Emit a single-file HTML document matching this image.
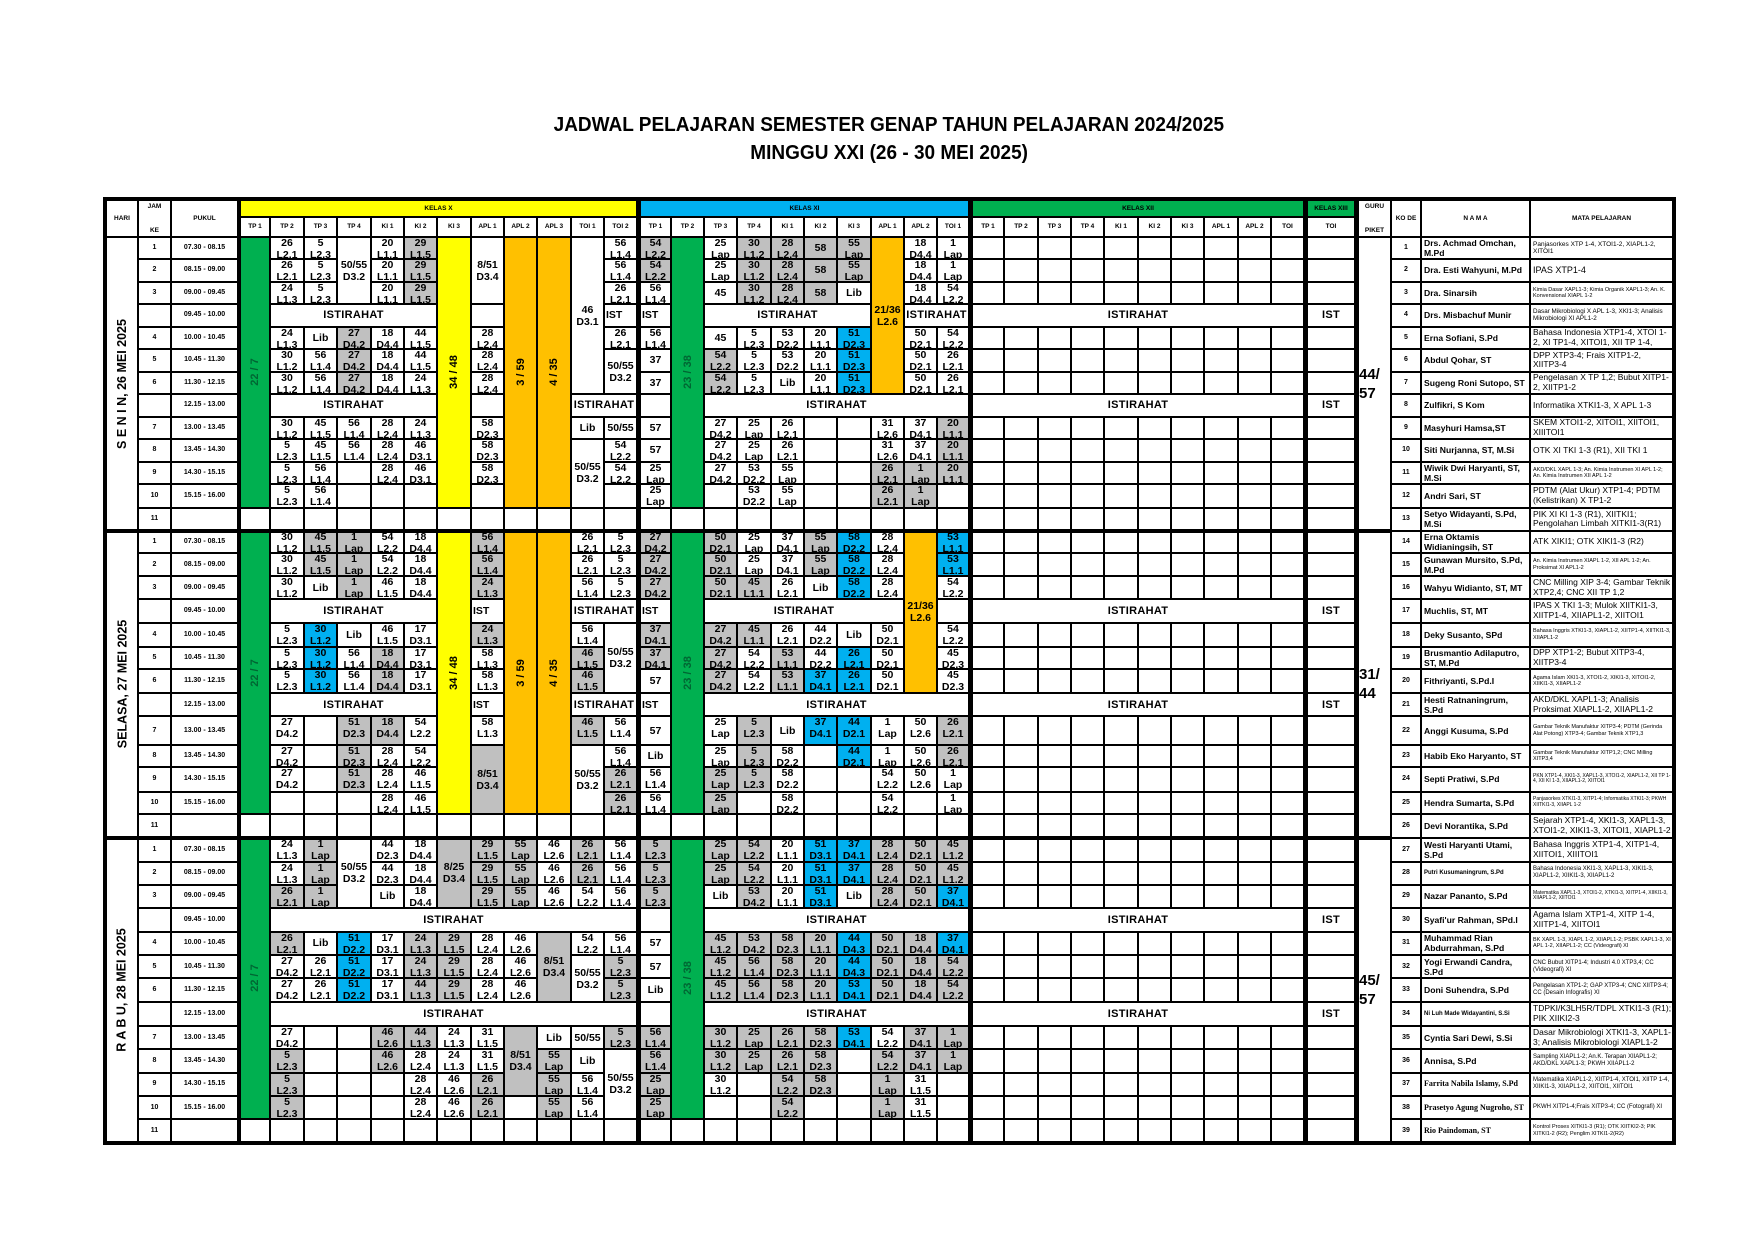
<!DOCTYPE html>
<html><head><meta charset="utf-8">
<style>
html,body{margin:0;padding:0;background:#fff;}
body{width:1754px;height:1240px;position:relative;overflow:hidden;font-family:"Liberation Sans",sans-serif;}
.b{position:absolute;box-sizing:border-box;display:flex;align-items:center;justify-content:center;text-align:center;overflow:hidden;color:#000;font-weight:bold;font-size:10.5px;line-height:12px;}
.t{align-items:flex-start;padding-top:0px;}
.i{font-size:11px;letter-spacing:0.3px;}
.l{justify-content:flex-start;padding-left:1px;font-size:10.5px;}
.h{font-size:6.5px;}
.s{font-size:7px;}
.n{justify-content:flex-start;padding-left:2px;font-size:8.6px;text-align:left;line-height:10px;}
.m{justify-content:flex-start;padding-left:2px;font-weight:normal;text-align:left;line-height:1.15;}
.rot span{display:inline-block;transform:rotate(-90deg);white-space:nowrap;}
.title{position:absolute;left:0;width:1778px;text-align:center;font-weight:bold;font-size:20px;line-height:23px;}
.title span{display:inline-block;transform:scaleX(0.95);white-space:nowrap;}
</style></head><body>
<div class="title" style="top:114px"><span>JADWAL PELAJARAN SEMESTER GENAP TAHUN PELAJARAN 2024/2025</span></div>
<div class="title" style="top:142px"><span>MINGGU XXI (26 - 30 MEI 2025)</span></div>
<div id="t"></div>
<script>
const X=[106,138,171,238,240,270,304,337,371,404,437,471,504,537,571,604,637,640,671,704,737,771,804,837,871,904,937,969,972,1004,1038,1071,1104,1138,1171,1204,1238,1271,1304,1307,1355,1358,1391,1421,1530,1673];
const Y=[237,259.3,281.7,304.3,326.7,349,371.7,394.3,416.7,439.3,461.7,484.3,507.7,531,
553,576,599.3,622.7,646.7,669.3,693.3,716,745,767.3,791.7,814,837.5,
861.7,885,907.7,931.7,955,978.3,1002.3,1026,1049.3,1072.7,1096,1119,1142];
const BG={'':'#fff',g:'#c0c0c0',c:'#00b0f0',y:'#ffff00',o:'#ffc000',G:'#00b050'};
let h='';
function box(x0,y0,x1,y1,bg,html,cls){h+='<div class="b '+(cls||'')+'" style="left:'+x0+'px;top:'+y0+'px;width:'+(x1-x0)+'px;height:'+(y1-y0)+'px;background:'+bg+'">'+(html||'')+'</div>';}
function cell(c0,c1,r0,r1,bg,html,cls){box(X[c0]+1,Y[r0]+1,X[c1+1]-1,Y[r1+1]-1,bg,html,cls);}
box(103,197,1676,1145,'#000');
const HT=200,HM=217,HB=237;
box(X[0]+1,HT+1,X[1]-1,HB-1,'#fff','HARI','h');
box(X[1]+1,HT+1,X[2]-1,HB-1,'#fff','<div>JAM<br><br>KE</div>','h');
box(X[2]+1,HT+1,X[3]-1,HB-1,'#fff','PUKUL','h');
box(X[4]+1,HT+1,X[16]-1,HM-1,'#ffff00','KELAS X','h');
box(X[17]+1,HT+1,X[27]-1,HM-1,'#00b0f0','KELAS XI','h');
box(X[28]+1,HT+1,X[38]-1,HM-1,'#00b050','KELAS XII','h');
box(X[39]+1,HT+1,X[40]-1,HM-1,'#00b050','KELAS XIII','h');
box(X[41]+1,HT+1,X[42]-1,HB-1,'#fff','<div>GURU<br><br>PIKET</div>','h');
box(X[42]+1,HT+1,X[43]-1,HB-1,'#fff','KO DE','h');
box(X[43]+1,HT+1,X[44]-1,HB-1,'#fff','N A M A','h');
box(X[44]+1,HT+1,X[45]-1,HB-1,'#fff','MATA PELAJARAN','h');
const subX=['TP 1','TP 2','TP 3','TP 4','KI 1','KI 2','KI 3','APL 1','APL 2','APL 3','TOI 1','TOI 2'];
subX.forEach((s,i)=>box(X[4+i]+1,HM+1,X[5+i]-1,HB-1,'#fff',s,'h'));
const subXI=['TP 1','TP 2','TP 3','TP 4','KI 1','KI 2','KI 3','APL 1','APL 2','TOI 1'];
subXI.forEach((s,i)=>box(X[17+i]+1,HM+1,X[18+i]-1,HB-1,'#fff',s,'h'));
const subXII=['TP 1','TP 2','TP 3','TP 4','KI 1','KI 2','KI 3','APL 1','APL 2','TOI'];
subXII.forEach((s,i)=>box(X[28+i]+1,HM+1,X[29+i]-1,HB-1,'#fff',s,'h'));
box(X[39]+1,HM+1,X[40]-1,HB-1,'#fff','TOI','h');

const JAM=['1','2','3','','4','5','6','','7','8','9','10','11'];
const PUK=['07.30 - 08.15','08.15 - 09.00','09.00 - 09.45','09.45 - 10.00','10.00 - 10.45','10.45 - 11.30','11.30 - 12.15','12.15 - 13.00','13.00 - 13.45','13.45 - 14.30','14.30 - 15.15','15.15 - 16.00',''];
const DAYS=['S E N I N, 26 MEI 2025','SELASA, 27 MEI 2025','R A B U, 28 MEI 2025'];
const PIKET=['44/<br>57','31/<br>44','45/<br>57'];
const dataCols=[4,5,6,7,8,9,10,11,12,13,14,15,17,18,19,20,21,22,23,24,25,26,28,29,30,31,32,33,34,35,36,37,39];
for(let d=0;d<3;d++){
  const o=13*d;
  cell(0,0,o,o+12,'#fff','<span style="font-size:12.5px">'+DAYS[d]+'</span>','rot');
  for(let r=0;r<13;r++){
    cell(1,1,o+r,o+r,'#fff',JAM[r],'s');
    cell(2,2,o+r,o+r,'#fff',PUK[r],'s');
    dataCols.forEach(c=>cell(c,c,o+r,o+r,'#fff',''));
  }
  cell(41,41,o,o+12,'#fff','<div style="font-size:15px;line-height:19px;text-align:left;width:100%">'+PIKET[d]+'</div>');
  cell(28,37,o+3,o+3,'#fff','ISTIRAHAT','i');
  cell(28,37,o+7,o+7,'#fff','ISTIRAHAT','i');
  cell(39,39,o+3,o+3,'#fff','IST','i');
  cell(39,39,o+7,o+7,'#fff','IST','i');
  cell(4,4,o,o+11,'#00b050','<span style="font-size:11px;color:#063">22 / 7</span>','rot');
  cell(18,18,o,o+11,'#00b050','<span style="font-size:11px;color:#063">23 / 38</span>','rot');
  if(d<2){
    cell(10,10,o,o+11,'#ffff00','<span style="font-size:11px">34 / 48</span>','rot');
    cell(12,12,o,o+11,'#ffc000','<span style="font-size:11px">3 / 59</span>','rot');
    cell(13,13,o,o+11,'#ffc000','<span style="font-size:11px">4 / 35</span>','rot');
  }
}
const SP=[
`5 0.1 26|L2.1;5 2.4 24|L1.3;5 5.6.8 30|L1.2;5 9.10.11 5|L2.3;
6 0.1.2 5|L2.3;6 4 Lib;6 5.6 56|L1.4;6 8.9 45|L1.5;6 10.11 56|L1.4;
7 0-2 50/55|D3.2;7 4.5.6 27|D4.2 g;7 8.9 56|L1.4;
8 0.1.2 20|L1.1;8 4.5.6 18|D4.4;8 8.9.10 28|L2.4;
9 0.1.2 29|L1.5 g;9 4.5 44|L1.5;9 6.8 24|L1.3;9 9.10 46|D3.1;
5-9 3 ISTIRAHAT i;5-9 7 ISTIRAHAT i;
11 0-2 8/51|D3.4;11 4.5.6 28|L2.4;11 8.9.10 58|D2.3;
14 0-6 46|D3.1;14-15 7 ISTIRAHAT i;14 8 Lib;14 9-11 50/55|D3.2;
15 0.1 56|L1.4;15 2.4 26|L2.1;15 3 IST l;15 5-6 50/55|D3.2;15 8 50/55;15 9.10 54|L2.2;
17 0.1 54|L2.2 g;17 2.4 56|L1.4;17 3 IST l;17 5.6 37;17 8.9 57;17 10.11 25|Lap;
19 0.1 25|Lap;19 2.4 45;19 5.6 54|L2.2 g;19 8.9.10 27|D4.2;
20 0.1.2 30|L1.2 g;20 4.5.6 5|L2.3;20 8.9 25|Lap;20 10.11 53|D2.2;
21 0.1.2 28|L2.4 g;21 4.5 53|D2.2;21 6 Lib;21 8.9 26|L2.1;21 10.11 55|Lap;
22 0.1.2 58 g;22 4.5.6 20|L1.1;
23 0.1 55|Lap g;23 2 Lib;23 4.5.6 51|D2.3 c;
19-23 3 ISTIRAHAT i;19-26 7 ISTIRAHAT i;
24 0-6 21/36|L2.6 o;24 8.9 31|L2.6;24 10.11 26|L2.1 g;
25 0.1.2 18|D4.4;25-26 3 ISTIRAHAT i;25 4.5.6 50|D2.1;25 8.9 37|D4.1;25 10.11 1|Lap g;
26 0.1 1|Lap;26 2.4 54|L2.2;26 5.6 26|L2.1;26 8.9.10 20|L1.1 g`,
`5 0.1.2 30|L1.2;5 4.5.6 5|L2.3;5 8.9.10 27|D4.2;
6 0.1 45|L1.5 g;6 2 Lib;6 4.5.6 30|L1.2 c;
7 0.1.2 1|Lap g;7 4 Lib;7 5.6 56|L1.4;7 8.9.10 51|D2.3 g;
8 0.1 54|L2.2;8 2.4 46|L1.5;8 5.6.8 18|D4.4 g;8 9.10.11 28|L2.4;
9 0.1.2 18|D4.4;9 4.5.6 17|D3.1;9 8.9 54|L2.2;9 10.11 46|L1.5;
5-9 3 ISTIRAHAT i;5-9 7 ISTIRAHAT i;
11 0.1 56|L1.4 g;11 2.4 24|L1.3 g;11 3 IST l;11 7 IST l;11 5.6.8 58|L1.3;11 9-11 8/51|D3.4 g;
14 0.1 26|L2.1;14 2.4 56|L1.4;14-15 3 ISTIRAHAT i;14-15 7 ISTIRAHAT i;14 5.6.8 46|L1.5 g;14 9-11 50/55|D3.2;
15 0.1.2 5|L2.3;15 4-6 50/55|D3.2;15 8.9 56|L1.4;15 10.11 26|L2.1 g;
17 0.1.2 27|D4.2 g;17 3 IST l;17 4.5 37|D4.1 g;17 6.8 57;17 7 IST l;17 9 Lib;17 10.11 56|L1.4;
19 0.1.2 50|D2.1 g;19 4.5.6 27|D4.2 g;19 8.9 25|Lap;19 10.11 25|Lap g;
20 0.1 25|Lap;20 2.4 45|L1.1 g;20 5.6 54|L2.2;20 8.9.10 5|L2.3 g;
21 0.1 37|D4.1;21 2.4 26|L2.1;21 5.6 53|L1.1 g;21 8 Lib;21 9.10.11 58|D2.2;
22 0.1 55|Lap g;22 2 Lib;22 4.5 44|D2.2;22 6.8 37|D4.1 c;
23 0.1.2 58|D2.2 c;23 4 Lib;23 5.6 26|L2.1 c;23 8.9 44|D2.1 c;
24 0.1.2 28|L2.4;24 4.5.6 50|D2.1;24 8.9 1|Lap;24 10.11 54|L2.2;
25 0-6 21/36|L2.6 o;25 8.9.10 50|L2.6;
26 0.1 53|L1.1 c;26 2.4 54|L2.2;26 5.6 45|D2.3;26 8.9 26|L2.1 g;26 10.11 1|Lap;
19-24 3 ISTIRAHAT i;19-26 7 ISTIRAHAT i`,
`5 0.1 24|L1.3;5 2.4 26|L2.1 g;5 5.6.8 27|D4.2;5 9.10.11 5|L2.3 g;
6 0.1.2 1|Lap g;6 4 Lib;6 5.6 26|L2.1;
7 0-2 50/55|D3.2;7 4.5.6 51|D2.2 c;
8 0.1 44|D2.3;8 2 Lib;8 4.5.6 17|D3.1;8 8.9 46|L2.6 g;
9 0.1.2 18|D4.4;9 4.5 24|L1.3 g;9 6.8 44|L1.3 g;9 9.10.11 28|L2.4;
10 0-2 8/25|D3.4 g;10 4.5.6 29|L1.5 g;10 8.9 24|L1.3;10 10.11 46|L2.6;
11 0.1.2 29|L1.5 g;11 4.5.6 28|L2.4;11 8.9 31|L1.5;11 10.11 26|L2.1 g;
12 0.1.2 55|Lap g;12 4.5.6 46|L2.6;12 8-10 8/51|D3.4 g;
13 0.1.2 46|L2.6;13 4-6 8/51|D3.4 g;13 8 Lib;13 9.10.11 55|Lap g;
14 0.1 26|L2.1 g;14 2.4 54|L2.2;14 5-6 50/55|D3.2;14 8 50/55;14 9 Lib;14 10.11 56|L1.4;
15 0.1.2.4 56|L1.4;15 5.6.8 5|L2.3 g;15 9-11 50/55|D3.2;
5-15 3 ISTIRAHAT i;5-15 7 ISTIRAHAT i;
17 0.1.2 5|L2.3 g;17 4.5 57;17 6 Lib;17 8.9 56|L1.4 g;17 10.11 25|Lap g;
19 0.1 25|Lap g;19 2 Lib;19 4.5.6 45|L1.2 g;19 8.9 30|L1.2 g;19 10 30|L1.2;
20 0.1 54|L2.2 g;20 2.4 53|D4.2 g;20 5.6 56|L1.4 g;20 8.9 25|Lap g;
21 0.1.2 20|L1.1;21 4.5.6 58|D2.3 g;21 8.9 26|L2.1 g;21 10.11 54|L2.2 g;
22 0.1.2 51|D3.1 c;22 4.5.6 20|L1.1 g;22 8.9.10 58|D2.3 g;
23 0.1 37|D4.1 c;23 2 Lib;23 4.5 44|D4.3 c;23 6.8 53|D4.1 c;
24 0.1.2 28|L2.4 g;24 4.5.6 50|D2.1 g;24 8 54|L2.2;24 9 54|L2.2 g;24 10.11 1|Lap g;
25 0.1.2 50|D2.1 g;25 4.5.6 18|D4.4 g;25 8.9 37|D4.1 g;25 10.11 31|L1.5;
26 0.1 45|L1.2 g;26 2.4 37|D4.1 c;26 5.6 54|L2.2 g;26 8.9 1|Lap g;
19-26 3 ISTIRAHAT i;19-26 7 ISTIRAHAT i`
];
SP.forEach((s,d)=>{
  const o=13*d;
  s.split(';').forEach(e=>{
    e=e.trim(); if(!e) return;
    const p=e.split(' ');
    const cs=p[0].split('-').map(Number); const c0=cs[0],c1=cs.length>1?cs[1]:cs[0];
    const txt=p[2]; let bg=p[3]||''; let cls='';
    if(bg==='i'||bg==='l'){cls=bg;bg='';}
    const multi=txt.indexOf('|')>=0;
    const html=txt.replace('|','<br>');
    if(p[1].indexOf('-')>=0){
      const rs=p[1].split('-').map(Number);
      cell(c0,c1,o+rs[0],o+rs[1],BG[bg],'<div>'+html+'</div>',cls);
    } else {
      p[1].split('.').map(Number).forEach(r=>{
        cell(c0,c1,o+r,o+r,BG[bg],multi?'<div style="margin-top:-1px">'+html+'</div>':html,(multi?'t ':'')+cls);
      });
    }
  });
});
box(103,Y[13]-2,X[42]+1,Y[13]+2,'#000');
box(103,Y[26]-2,X[42]+1,Y[26]+2,'#000');
const T=[
['Drs. Achmad Omchan, M.Pd','Panjasorkes XTP 1-4, XTOI1-2, XIAPL1-2, XITOI1',6.5],
['Dra. Esti Wahyuni, M.Pd','IPAS XTP1-4',9],
['Dra. Sinarsih','Kimia Dasar XAPL1-3; Kimia Organik XAPL1-3; An. K. Konvensional XIAPL 1-2',5.5],
['Drs. Misbachuf Munir','Dasar Mikrobiologi X APL 1-3, XKI1-3; Analisis Mikrobiologi XI APL1-2',6.3],
['Erna Sofiani, S.Pd','Bahasa Indonesia XTP1-4, XTOI 1-2, XI TP1-4, XITOI1, XII TP 1-4,',8.5],
['Abdul Qohar, ST','DPP XTP3-4; Frais XITP1-2, XIITP3-4',8.5],
['Sugeng Roni Sutopo, ST','Pengelasan X TP 1,2; Bubut XITP1-2, XIITP1-2',8.5],
['Zulfikri, S Kom','Informatika XTKI1-3, X APL 1-3',8.5],
['Masyhuri Hamsa,ST','SKEM XTOI1-2, XITOI1, XIITOI1, XIIITOI1',8.5],
['Siti Nurjanna, ST, M.Si','OTK XI TKI 1-3 (R1), XII TKI 1',8.5],
['Wiwik Dwi Haryanti, ST, M.Si','AKD/DKL XAPL 1-3; An. Kimia Instrumen XI APL 1-2; An. Kimia Instrumen XII APL 1-2',5.5],
['Andri Sari, ST','PDTM (Alat Ukur) XTP1-4; PDTM (Kelistrikan) X TP1-2',8.5],
['Setyo Widayanti, S.Pd, M.Si','PIK XI KI 1-3 (R1), XIITKI1; Pengolahan Limbah XITKI1-3(R1)',8.5],
['Erna Oktamis Widianingsih, ST','ATK XIKI1; OTK XIKI1-3 (R2)',8.5],
['Gunawan Mursito, S.Pd, M.Pd','An. Kimia Instrumen XIAPL 1-2, XII APL 1-2; An. Proksimat XI APL1-2',5.5],
['Wahyu Widianto, ST, MT','CNC Milling XIP 3-4; Gambar Teknik XTP2,4; CNC XII TP 1,2',8.5],
['Muchlis, ST, MT','IPAS X TKI 1-3; Mulok XIITKI1-3, XIITP1-4, XIIAPL1-2, XIITOI1',8.5],
['Deky Susanto, SPd','Bahasa Inggris XTKI1-3, XIAPL1-2, XIITP1-4, XIITKI1-3, XIIAPL1-2',5.5],
['Brusmantio Adilaputro, ST, M.Pd','DPP XTP1-2; Bubut XITP3-4, XIITP3-4',8.5],
['Fithriyanti, S.Pd.I','Agama Islam XKI1-3, XTOI1-2, XIKI1-3, XITOI1-2, XIIKI1-3, XIIAPL1-2',5.5],
['Hesti Ratnaningrum, S.Pd','AKD/DKL XAPL1-3; Analisis Proksimat XIAPL1-2, XIIAPL1-2',8.5],
['Anggi Kusuma, S.Pd','Gambar Teknik Manufaktur XITP3-4; PDTM (Gerinda Alat Potong) XTP3-4; Gambar Teknik XTP1,3',5.5],
['Habib Eko Haryanto, ST','Gambar Teknik Manufaktur XITP1,2; CNC Milling XITP3,4',5.5],
['Septi Pratiwi, S.Pd','PKN XTP1-4, XKI1-3, XAPL1-3, XTOI1-2, XIAPL1-2, XII TP 1-4, XII KI 1-3, XIIAPL1-2, XIITOI1',5],
['Hendra Sumarta, S.Pd','Panjasorkes XTKI1-3, XITP1-4; Informatika XTKI1-3; PKWH XIITKI1-3, XIIAPL 1-2',5],
['Devi Norantika, S.Pd','Sejarah XTP1-4, XKI1-3, XAPL1-3, XTOI1-2, XIKI1-3, XITOI1, XIAPL1-2',8.5],
['Westi Haryanti Utami, S.Pd','Bahasa Inggris XTP1-4, XITP1-4, XIITOI1, XIIITOI1',8.5],
['Putri Kusumaningrum, S.Pd','Bahasa Indonesia XKI1-3, XAPL1-3, XIKI1-3, XIAPL1-2, XIIKI1-3, XIIAPL1-2',6,6],
['Nazar Pananto, S.Pd','Matematika XAPL1-3, XTOI1-2, XTKI1-3, XIITP1-4, XIIKI1-3, XIIAPL1-2, XIITOI1',5],
["Syafi'ur Rahman, SPd.I",'Agama Islam XTP1-4, XITP 1-4, XIITP1-4, XIITOI1',8.5],
['Muhammad Rian Abdurrahman, S.Pd','BK XAPL 1-3, XIAPL 1-2, XIIAPL1-2; PSBK XAPL1-3, XI APL 1-2, XIIAPL1-2; CC (Videografi) XI',5.5],
['Yogi Erwandi Candra, S.Pd','CNC Bubut XITP1-4; Industri 4.0 XTP3,4; CC (Videografi) XI',6],
['Doni Suhendra, S.Pd','Pengelasan XTP1-2; GAP XTP3-4; CNC XIITP3-4; CC (Desain Infografis) XI',6],
['Ni Luh Made Widayantini, S.Si','TDPKI/K3LH5R/TDPL XTKI1-3 (R1); PIK XIIKI2-3',8.5,6],
['Cyntia Sari Dewi, S.Si','Dasar Mikrobiologi XTKI1-3, XAPL1-3; Analisis Mikrobiologi XIAPL1-2',8.5],
['Annisa, S.Pd','Sampling XIAPL1-2; An.K. Terapan XIIAPL1-2; AKD/DKL XAPL1-3; PKWH XIIAPL1-2',6],
['Farrita Nabila Islamy, S.Pd','Matematika XIAPL1-2, XIITP1-4, XTOI1, XIITP 1-4, XIIKI1-3, XIIAPL1-2, XIITOI1, XIITOI1',6,8,1],
['Prasetyo Agung Nugroho, ST','PKWH XITP1-4;Frais XITP3-4; CC (Fotografi) XI',6,8,1],
['Rio Paindoman, ST','Kontrol Proses XITKI1-3 (R1); OTK XIITKI2-3; PIK XITKI1-2 (R2); Penglim XITKI1-2(R2)',5.5,8,1]
];
T.forEach((t,i)=>{
  cell(42,42,i,i,'#fff',String(i+1),'s');
  const nf=t[3]||8.6; const ser=t[4]?'font-family:\'Liberation Serif\',serif;':'';
  cell(43,43,i,i,'#fff','<span style="font-size:'+nf+'px;'+ser+'">'+t[0]+'</span>','n');
  cell(44,44,i,i,'#fff','<span style="font-size:'+t[2]+'px">'+t[1]+'</span>','m');
});
document.getElementById('t').innerHTML=h;
</script>
</body></html>
